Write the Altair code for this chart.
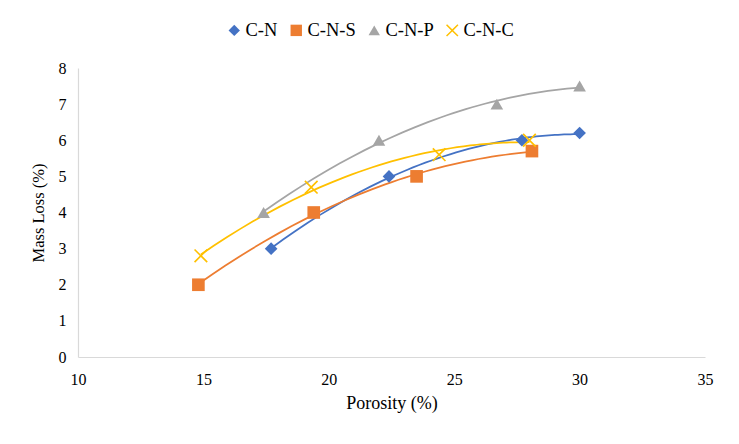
import math
import altair as alt
import pandas as pd

series = ["C-N", "C-N-S", "C-N-P", "C-N-C"]
colors = ["#4472C4", "#ED7D31", "#A5A5A5", "#FFC000"]

porosity_cn = [17.7, 22.4, 27.7, 30.0]
mass_cn = [3.0, 5.0, 6.0, 6.2]
porosity_cns = [14.8, 19.4, 23.5, 28.1]
mass_cns = [2.0, 4.0, 5.0, 5.7]
porosity_cnp = [17.4, 22.0, 26.7, 30.0]
mass_cnp = [4.0, 6.0, 7.0, 7.5]
porosity_cnc = [14.9, 19.3, 24.4, 28.0]
mass_cnc = [2.8, 4.7, 5.6, 6.0]

x_ticks = [10, 15, 20, 25, 30, 35]
y_ticks = [0, 1, 2, 3, 4, 5, 6, 7, 8]

rows = []
for name, xs, ys in [
    ("C-N", porosity_cn, mass_cn),
    ("C-N-S", porosity_cns, mass_cns),
    ("C-N-P", porosity_cnp, mass_cnp),
    ("C-N-C", porosity_cnc, mass_cnc),
]:
    for a, b in zip(xs, ys):
        rows.append({"series": name, "porosity": a, "mass": b})
df = pd.DataFrame(rows)

FONT = "Liberation Serif, DejaVu Serif, serif"


def x_path(t=0.13):
    L = math.sqrt(2)
    pts = [(t, t), (t, L), (-t, L), (-t, t), (-L, t), (-L, -t), (-t, -t),
           (-t, -L), (t, -L), (t, -t), (L, -t), (L, t)]
    s = 1 / math.sqrt(2)
    rot = [((x - y) * s, (x + y) * s) for x, y in pts]
    return "M" + "L".join(f"{x:.3f},{y:.3f}" for x, y in rot) + "Z"


shapes = ["diamond", "square", "triangle-up", x_path()]

xenc = alt.X("porosity:Q", title="Porosity (%)",
             scale=alt.Scale(domain=[10, 35], nice=False, zero=False),
             axis=alt.Axis(values=x_ticks, labelPadding=14, titlePadding=7,
                           labelFlush=False, titleFontSize=18))
yenc = alt.Y("mass:Q", title="Mass Loss (%)",
             scale=alt.Scale(domain=[0, 8], nice=False),
             axis=alt.Axis(values=y_ticks, labelPadding=12, titlePadding=12,
                           labelFlush=False, titleFontSize=16.5))

legend = alt.Legend(title=None, orient="none", direction="horizontal",
                    legendX=147, legendY=-47, columns=4,
                    columnPadding=9, labelOffset=2,
                    symbolSize=130, symbolOpacity=1, symbolStrokeWidth=0,
                    labelFontSize=18.5, labelFont=FONT,
                    labelColor="#000000")

color = alt.Color("series:N", scale=alt.Scale(domain=series, range=colors),
                  legend=legend)

base = alt.Chart(df)

lines = base.transform_regression(
    "porosity", "mass", method="poly", order=2, groupby=["series"]
).mark_line(strokeWidth=1.75).encode(
    x=xenc, y=yenc, color=color,
)

points = base.mark_point(filled=True, opacity=1).encode(
    x=xenc, y=yenc,
    color=color,
    shape=alt.Shape("series:N", scale=alt.Scale(domain=series, range=shapes),
                    legend=legend),
    size=alt.value(160),
)

chart = alt.layer(lines, points).properties(
    width=627, height=289,
    autosize=alt.AutoSizeParams(type="none"),
    padding={"left": 70, "top": 60, "right": 26, "bottom": 79},
).configure(
    font=FONT,
).configure_view(stroke=None).configure_axis(
    grid=False, ticks=False, domainColor="#D9D9D9", domainWidth=1.2,
    labelFont=FONT, labelFontSize=16, labelColor="#000000",
    titleFont=FONT, titleFontSize=16, titleColor="#000000",
    titleFontWeight="normal",
)

chart.save("out.html", embed_options={"renderer": "svg", "actions": False})
